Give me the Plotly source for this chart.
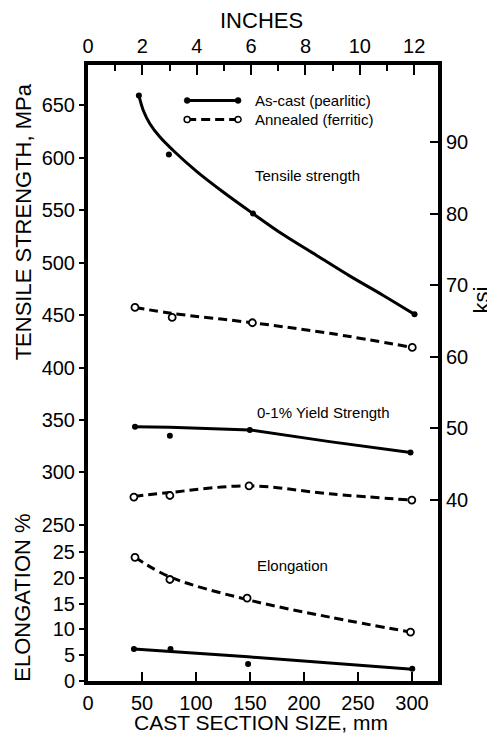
import plotly.graph_objects as go

# ---------------- data ----------------
# As-cast (pearlitic) tensile strength, MPa
ac_ts_pts_mm = [47.1, 74.9, 152.8, 302.3]
ac_ts_pts = [659.5, 603.3, 546.8, 450.7]
ac_ts_curve_mm = [47.1, 51.2, 57.3, 66.6, 78.9, 100.5, 125.1, 152.8, 180.6, 211.4, 242.2, 273.0, 302.3]
ac_ts_curve = [659.5, 645.2, 632.6, 619.8, 607.0, 587.1, 567.4, 546.8, 526.8, 507.1, 487.4, 469.0, 450.7]

# Annealed (ferritic) tensile strength, MPa
an_ts_pts_mm = [43.5, 77.9, 152.2, 300.2]
an_ts_pts = [457.3, 447.8, 442.7, 419.2]
an_ts_curve_mm = [43.5, 77.9, 152.2, 223.7, 300.2]
an_ts_curve = [457.3, 451.6, 442.7, 432.6, 419.2]

# As-cast 0-1% yield strength, MPa
ac_ys_pts_mm = [43.5, 75.8, 149.8, 298.6]
ac_ys_pts = [343.6, 335.0, 340.5, 318.9]
ac_ys_curve_mm = [43.5, 75.8, 149.8, 223.7, 298.6]
ac_ys_curve = [343.6, 342.9, 340.5, 329.3, 318.9]

# Annealed 0-1% yield strength, MPa
an_ys_pts_mm = [42.5, 75.8, 149.1, 299.8]
an_ys_pts = [276.4, 277.9, 287.1, 273.5]
an_ys_curve_mm = [42.5, 75.8, 149.1, 223.7, 299.8]
an_ys_curve = [277.0, 280.8, 287.1, 279.5, 273.5]

# Elongation, %
an_el_pts_mm = [43.5, 75.8, 147.3, 298.6]
an_el_pts = [24.0, 19.7, 16.1, 9.5]
an_el_curve_mm = [43.5, 75.8, 147.3, 223.7, 298.6]
an_el_curve = [24.0, 20.2, 15.8, 12.4, 9.5]

ac_el_pts_mm = [42.5, 76.4, 148.2, 300.2]
ac_el_pts = [6.2, 6.2, 3.3, 2.4]
ac_el_curve_mm = [42.5, 148.2, 300.2]
ac_el_curve = [6.2, 4.7, 2.3]

# tick labels
mm_ticks = [0, 50, 100, 150, 200, 250, 300]
inch_ticks = [0, 2, 4, 6, 8, 10, 12]
inch_minor = [1, 3, 5, 7, 9, 11]
mpa_ticks = [250, 300, 350, 400, 450, 500, 550, 600, 650]
elong_ticks = [0, 5, 10, 15, 20, 25]
ksi_ticks = [40, 50, 60, 70, 80, 90]

FONT = "Liberation Sans, Arial, Helvetica, sans-serif"
OFF = 8  # page body margin
W, H = 487, 730

# plot-area edges on the page (pixels)
plot_left, plot_right = 88.0, 438.5
plot_top, plot_bot = 64.5, 681.5
split_page = 539.0

L, T = plot_left - OFF, plot_top - OFF
R, B = W - (plot_right - OFF), H - (plot_bot - OFF)
PW, PH = plot_right - plot_left, plot_bot - plot_top
SPLIT = (plot_bot - split_page) / PH

# pixel scales measured on the reference
MM_PX, INCH_PX, X0_PAGE = 1.0817, 27.22, 88.0
MPA_PX, MPA0_PAGE = 1.05, 787.5
EL_PX, EL0_PAGE = 5.16, 681.5
KSI_PX, KSI40_PAGE = 7.166, 500.0

x_range = [(plot_left - X0_PAGE) / MM_PX, (plot_right - X0_PAGE) / MM_PX]
x2_range = [(plot_left - X0_PAGE) / INCH_PX, (plot_right - X0_PAGE) / INCH_PX]
y_range = [(MPA0_PAGE - split_page) / MPA_PX, (MPA0_PAGE - plot_top) / MPA_PX]
y2_range = [(EL0_PAGE - plot_bot) / EL_PX, (EL0_PAGE - split_page) / EL_PX]
y3_range = [40 - (split_page - KSI40_PAGE) / KSI_PX, 40 + (KSI40_PAGE - plot_top) / KSI_PX]

fig = go.Figure()

solid = dict(color="black", width=3)
dashed = dict(color="black", width=3, dash="9px,5px")
dot_m = dict(symbol="circle", size=6, color="black")
open_m = dict(symbol="circle", size=7, color="white", line=dict(color="black", width=1.8))


def add(xc, yc, xp, yp, line, marker, ya, shape="spline"):
    fig.add_trace(go.Scatter(x=xc, y=yc, mode="lines", line=dict(shape=shape, smoothing=1.0, **line),
                             xaxis="x", yaxis=ya, showlegend=False, hoverinfo="skip"))
    fig.add_trace(go.Scatter(x=xp, y=yp, mode="markers", marker=marker,
                             xaxis="x", yaxis=ya, showlegend=False))


add(ac_ts_curve_mm, ac_ts_curve, ac_ts_pts_mm, ac_ts_pts, solid, dot_m, "y")
add(an_ts_curve_mm, an_ts_curve, an_ts_pts_mm, an_ts_pts, dashed, open_m, "y")
add(ac_ys_curve_mm, ac_ys_curve, ac_ys_pts_mm, ac_ys_pts, solid, dot_m, "y", shape="linear")
add(an_ys_curve_mm, an_ys_curve, an_ys_pts_mm, an_ys_pts, dashed, open_m, "y")
add(an_el_curve_mm, an_el_curve, an_el_pts_mm, an_el_pts, dashed, open_m, "y2")
add(ac_el_curve_mm, ac_el_curve, ac_el_pts_mm, ac_el_pts, solid, dot_m, "y2")

# helper traces so the secondary axes are drawn
fig.add_trace(go.Scatter(x=[None], y=[None], xaxis="x2", yaxis="y", showlegend=False, hoverinfo="skip"))
fig.add_trace(go.Scatter(x=[None], y=[None], xaxis="x", yaxis="y3", showlegend=False, hoverinfo="skip"))

tickfont = dict(family=FONT, size=20, color="black")
common = dict(showgrid=False, zeroline=False, showline=True, linecolor="black", linewidth=4,
              tickcolor="black", tickwidth=2, tickfont=tickfont, tickmode="array",
              layer="above traces")

fig.update_layout(
    width=W, height=H,
    margin=dict(l=L, r=R, t=T, b=B),
    paper_bgcolor="white", plot_bgcolor="rgba(0,0,0,0)",
    font=dict(family=FONT, color="black"),
    xaxis=dict(domain=[0, 1], range=x_range, anchor="y2", side="bottom",
               tickvals=mm_ticks, ticks="inside", ticklen=9, ticklabelstandoff=1, **common),
    xaxis2=dict(overlaying="x", side="top", anchor="y", range=x2_range,
                tickvals=inch_ticks, ticks="inside", ticklen=10, ticklabelstandoff=0,
                minor=dict(ticks="inside", ticklen=6, tickvals=inch_minor,
                           tickcolor="black", tickwidth=2, showgrid=False),
                **common),
    yaxis=dict(domain=[SPLIT, 1], range=y_range, anchor="x",
               tickvals=mpa_ticks, ticks="outside", ticklen=5, **common),
    yaxis2=dict(domain=[0, SPLIT], range=y2_range, anchor="x", mirror=True,
                tickvals=elong_ticks, ticks="outside", ticklen=5, **common),
    yaxis3=dict(overlaying="y", side="right", anchor="x", range=y3_range,
                tickvals=ksi_ticks, ticks="inside", ticklen=8, **common),
)


def px_x(x):  # page pixel -> paper
    return (x - plot_left) / PW


def px_y(y):
    return (plot_bot - y) / PH


# legend samples
for yy, ln, filled in [(100, solid, True), (119, dashed, False)]:
    fig.add_shape(type="line", xref="paper", yref="paper", x0=px_x(187.3), x1=px_x(238.3),
                  y0=px_y(yy), y1=px_y(yy), line=ln)
    for xx in (187.3, 238.3):
        fig.add_shape(type="circle", xref="paper", yref="paper", xsizemode="pixel", ysizemode="pixel",
                      xanchor=px_x(xx), yanchor=px_y(yy), x0=-3, x1=3, y0=-3, y1=3,
                      fillcolor="black" if filled else "white",
                      line=dict(color="black", width=1.5 if not filled else 0.5))

ann_font = dict(family=FONT, size=15, color="black")
texts = [
    ("As-cast (pearlitic)", 253, 100),
    ("Annealed (ferritic)", 253, 119),
    ("Tensile strength", 253, 175),
    ("0-1% Yield Strength", 255, 413),
    ("Elongation", 255, 566),
]
for t, xx, yy in texts:
    fig.add_annotation(text=t, xref="paper", yref="paper", x=px_x(xx), y=px_y(yy),
                       xanchor="left", yanchor="middle", showarrow=False, font=ann_font)

title_font = dict(family=FONT, size=22, color="black")
fig.add_annotation(text="INCHES", xref="paper", yref="paper", x=px_x(262), y=px_y(20),
                   xanchor="center", yanchor="middle", showarrow=False, font=title_font)
fig.add_annotation(text="CAST SECTION SIZE, mm", xref="paper", yref="paper", x=px_x(261), y=px_y(723),
                   xanchor="center", yanchor="middle", showarrow=False,
                   font=dict(family=FONT, size=21, color="black"))
fig.add_annotation(text="TENSILE STRENGTH, MPa", xref="paper", yref="paper", x=px_x(23), y=px_y(222),
                   xanchor="center", yanchor="middle", textangle=-90, showarrow=False, font=title_font)
fig.add_annotation(text="ELONGATION %", xref="paper", yref="paper", x=px_x(23), y=px_y(598),
                   xanchor="center", yanchor="middle", textangle=-90, showarrow=False, font=title_font)
fig.add_annotation(text="ksi", xref="paper", yref="paper", x=px_x(482), y=px_y(300),
                   xanchor="center", yanchor="middle", textangle=-90, showarrow=False, font=title_font)

fig.write_html("out.html")
